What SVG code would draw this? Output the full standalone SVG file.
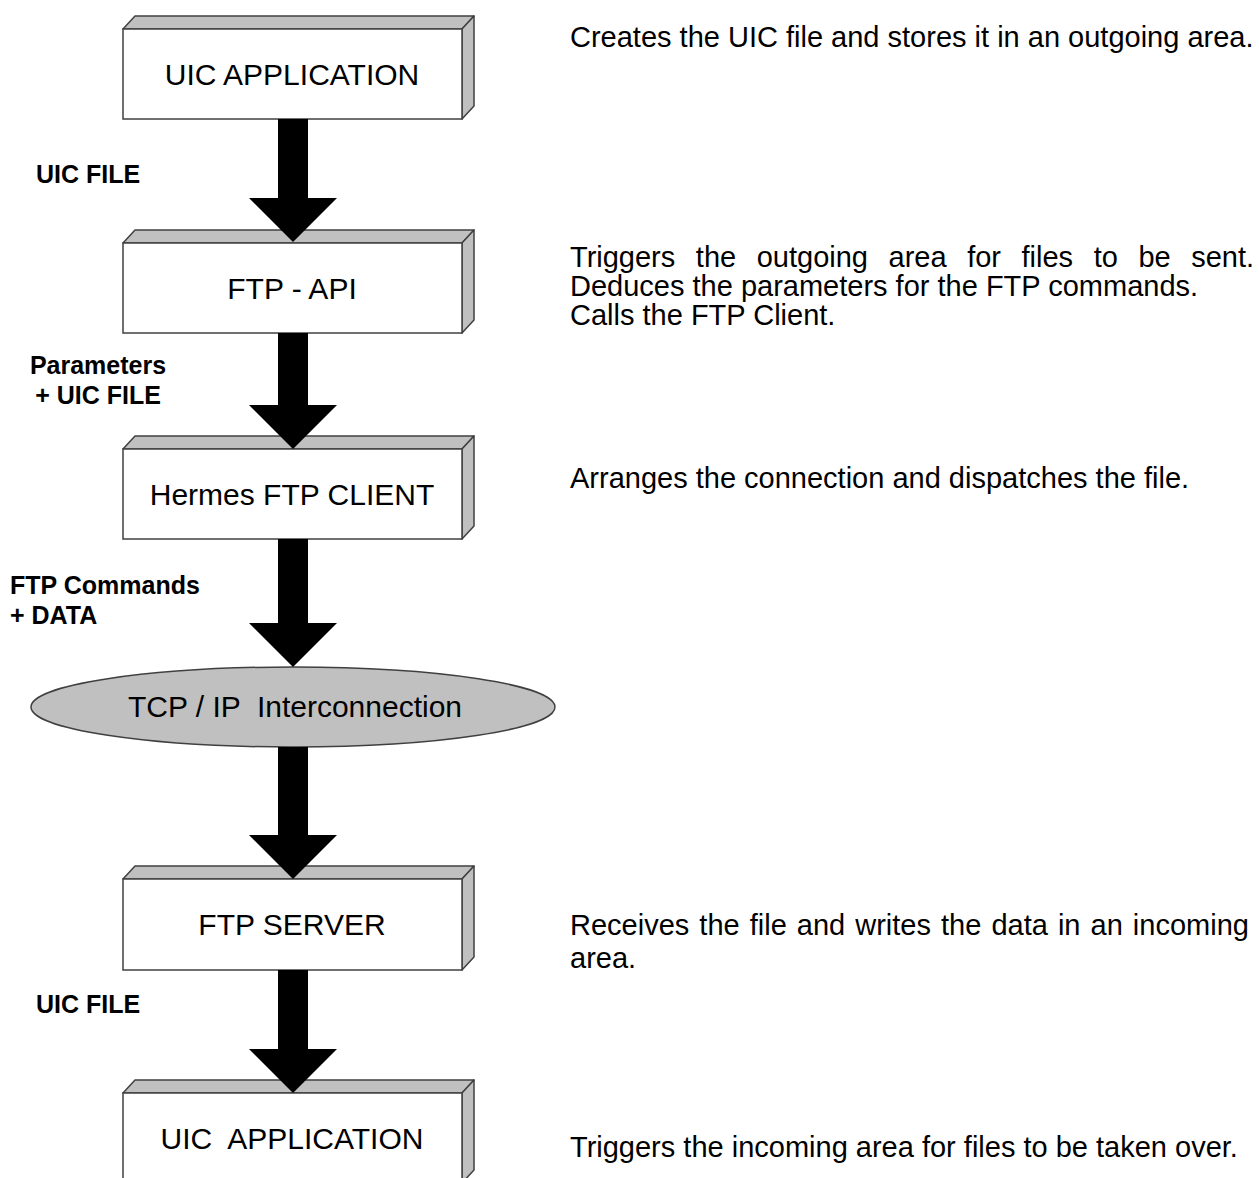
<svg xmlns="http://www.w3.org/2000/svg" width="1259" height="1178" viewBox="0 0 1259 1178">
<defs>
<style>
.front{fill:#ffffff;stroke:#404040;stroke-width:1.5}
.face{fill:#c0c0c0;stroke:#404040;stroke-width:1.5;stroke-linejoin:round}
.bt{font-family:"Liberation Sans",Arial,sans-serif;font-size:30px;fill:#000;text-anchor:middle}
.desc{font-family:"Liberation Sans",Arial,sans-serif;font-size:29px;fill:#000}
.lbl{font-family:"Liberation Sans",Arial,sans-serif;font-size:25px;font-weight:bold;fill:#000}
.arrow{fill:#000;stroke:none}
</style>
</defs>
<rect width="1259" height="1178" fill="#ffffff"/>

<g id="node-uic-app-1">
<polygon class="face" points="123,29 135,16 474,16 462,29"/>
<polygon class="face" points="462,29 474,16 474,106 462,119"/>
<rect class="front" x="123" y="29" width="339" height="90"/>
<text class="bt" x="292" y="85">UIC APPLICATION</text>
</g>

<g id="node-ftp-api">
<polygon class="face" points="123,243 135,230 474,230 462,243"/>
<polygon class="face" points="462,243 474,230 474,320 462,333"/>
<rect class="front" x="123" y="243" width="339" height="90"/>
<text class="bt" x="292" y="299">FTP - API</text>
</g>

<g id="node-ftp-client">
<polygon class="face" points="123,449 135,436 474,436 462,449"/>
<polygon class="face" points="462,449 474,436 474,526 462,539"/>
<rect class="front" x="123" y="449" width="339" height="90"/>
<text class="bt" x="292" y="505">Hermes FTP CLIENT</text>
</g>

<g id="node-tcpip">
<ellipse cx="293" cy="707" rx="262" ry="40" fill="#c0c0c0" stroke="#404040" stroke-width="1.5"/>
<text class="bt" x="295" y="717" xml:space="preserve">TCP / IP  Interconnection</text>
</g>

<g id="node-ftp-server">
<polygon class="face" points="123,879 135,866 474,866 462,879"/>
<polygon class="face" points="462,879 474,866 474,957 462,970"/>
<rect class="front" x="123" y="879" width="339" height="91"/>
<text class="bt" x="292" y="935">FTP SERVER</text>
</g>

<g id="node-uic-app-2">
<polygon class="face" points="123,1093 135,1080 474,1080 462,1093"/>
<polygon class="face" points="462,1093 474,1080 474,1170 462,1183"/>
<rect class="front" x="123" y="1093" width="339" height="90"/>
<text class="bt" x="292" y="1149" xml:space="preserve">UIC  APPLICATION</text>
</g>

<g id="connectors">
<polygon class="arrow" points="278,119 308,119 308,198 337,198 293,242 249,198 278,198"/>
<polygon class="arrow" points="278,333 308,333 308,405 337,405 293,449 249,405 278,405"/>
<polygon class="arrow" points="278,539 308,539 308,623 337,623 293,667 249,623 278,623"/>
<polygon class="arrow" points="278,747 308,747 308,835 337,835 293,879 249,835 278,835"/>
<polygon class="arrow" points="278,970 308,970 308,1049 337,1049 293,1093 249,1049 278,1049"/>
</g>

<g id="labels">
<text class="lbl" x="36" y="183">UIC FILE</text>
<text class="lbl" x="98" y="374" text-anchor="middle">Parameters</text>
<text class="lbl" x="98" y="404" text-anchor="middle">+ UIC FILE</text>
<text class="lbl" x="10" y="594">FTP Commands</text>
<text class="lbl" x="10" y="624">+ DATA</text>
<text class="lbl" x="36" y="1013">UIC FILE</text>
</g>

<g id="descriptions">
<text class="desc" x="570" y="47">Creates the UIC file and stores it in an outgoing area.</text>
<text class="desc" x="570" y="267" word-spacing="12.5">Triggers the outgoing area for files to be sent.</text>
<text class="desc" x="570" y="296">Deduces the parameters for the FTP commands.</text>
<text class="desc" x="570" y="325">Calls the FTP Client.</text>
<text class="desc" x="570" y="488">Arranges the connection and dispatches the file.</text>
<text class="desc" x="570" y="935" word-spacing="2">Receives the file and writes the data in an incoming</text>
<text class="desc" x="570" y="968">area.</text>
<text class="desc" x="570" y="1157">Triggers the incoming area for files to be taken over.</text>
</g>
</svg>
